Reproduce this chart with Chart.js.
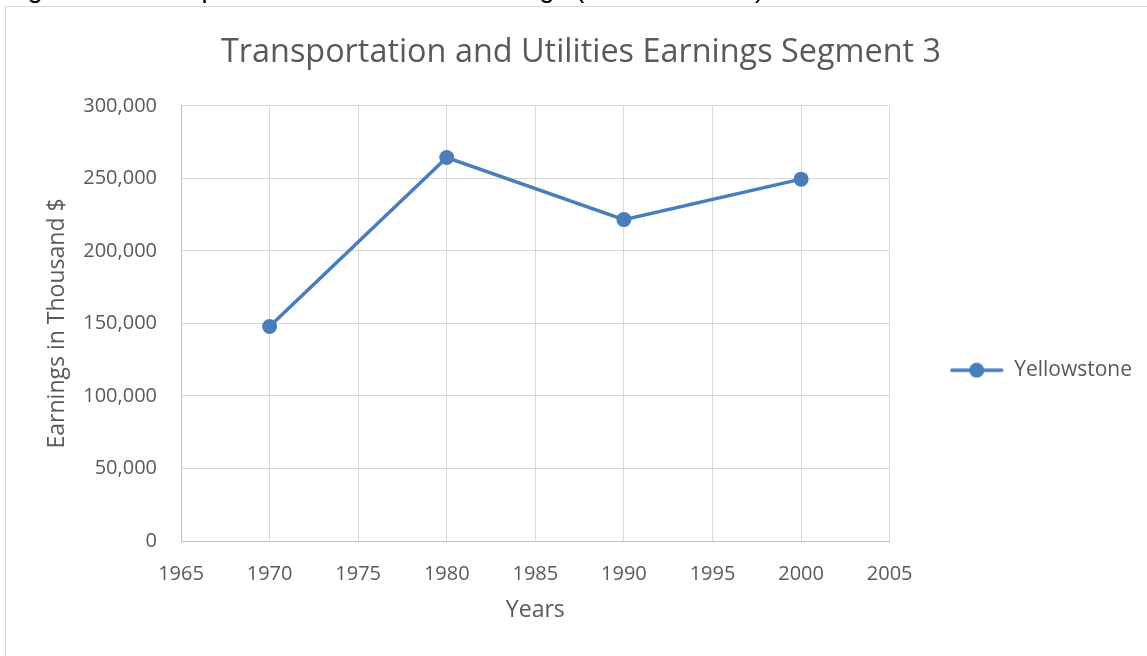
<!DOCTYPE html>
<html>
<head>
<meta charset="utf-8">
<script src="https://cdn.jsdelivr.net/npm/chart.js@4"></script>
<style>
  html, body { margin: 0; padding: 0; background: #fff; overflow: hidden; }
  #page { position: relative; width: 1147px; height: 656px; }
  #caption {
    position: absolute; left: 5px; top: -27px; margin: 0; line-height: 31px;
    font-family: "Liberation Sans", sans-serif; font-size: 27px; color: #000; white-space: nowrap;
  }
  #frame {
    position: absolute; left: 5px; top: 6px; width: 1150px; height: 700px;
    border: 1px solid #d9d9d9; box-sizing: border-box;
  }
  #wrap { position: absolute; left: 0; top: 0; width: 1147px; height: 656px; }
</style>
</head>
<body>
<div id="page">
  <p id="caption">Figure 10: Transportation and Utilities Earnings (in Thousand $)</p>
  <div id="frame"></div>
  <div id="wrap"><canvas id="earningsChart"></canvas></div>
</div>
<script>
const years = [1970, 1980, 1990, 2000];
const yellowstone = [147900, 264400, 221600, 249500];
const xTicks = [1965, 1970, 1975, 1980, 1985, 1990, 1995, 2000, 2005];
const yTicks = [0, 50000, 100000, 150000, 200000, 250000, 300000];

const LINE_BLUE = "#4a7ebb";
const TEXT_GREY = "#595959";
const GRID_GREY = "#d9d9d9";
const FONT = "'Open Sans', sans-serif";

// legend marker: short line with a dot in the middle
function legendMarker() {
  const c = document.createElement("canvas");
  c.width = 54;
  c.height = 16;
  const ctx = c.getContext("2d");
  ctx.strokeStyle = LINE_BLUE;
  ctx.lineWidth = 3.5;
  ctx.lineCap = "round";
  ctx.beginPath();
  ctx.moveTo(2, 8);
  ctx.lineTo(52, 8);
  ctx.stroke();
  ctx.fillStyle = LINE_BLUE;
  ctx.beginPath();
  ctx.arc(27, 8, 7.5, 0, Math.PI * 2);
  ctx.fill();
  return c;
}

function init() {
  const marker = legendMarker();
  new Chart(document.getElementById("earningsChart"), {
    type: "line",
    data: {
      datasets: [{
        label: "Yellowstone",
        data: years.map((y, i) => ({ x: y, y: yellowstone[i] })),
        borderColor: LINE_BLUE,
        backgroundColor: LINE_BLUE,
        borderWidth: 3.5,
        pointRadius: 7.5,
        pointHoverRadius: 7.5,
        pointBorderWidth: 0,
        tension: 0,
        fill: false
      }]
    },
    options: {
      responsive: true,
      maintainAspectRatio: false,
      animation: false,
      layout: { padding: { left: 20, right: 5, top: 0, bottom: 32 } },
      plugins: {
        title: {
          display: true,
          text: "Transportation and Utilities Earnings Segment 3",
          color: TEXT_GREY,
          font: { family: FONT, size: 32.4, weight: "normal" },
          padding: { top: 33, bottom: 34 }
        },
        legend: {
          position: "right",
          title: { display: true, text: "", font: { size: 12 }, padding: { top: 0, bottom: 102 } },
          labels: {
            color: TEXT_GREY,
            font: { family: FONT, size: 21 },
            usePointStyle: true,
            pointStyle: marker,
            pointStyleWidth: 54,
            padding: 60,
            generateLabels: chart => chart.data.datasets.map((ds, i) => ({
              text: ds.label,
              fontColor: TEXT_GREY,
              pointStyle: marker,
              datasetIndex: i,
              lineWidth: 0,
              strokeStyle: "transparent",
              fillStyle: "transparent"
            }))
          }
        },
        tooltip: { enabled: false }
      },
      scales: {
        x: {
          type: "linear",
          min: xTicks[0],
          max: xTicks[xTicks.length - 1],
          afterBuildTicks: axis => { axis.ticks = xTicks.map(v => ({ value: v })); },
          afterFit: axis => { axis.height = 83; },
          ticks: {
            color: TEXT_GREY,
            font: { family: FONT, size: 20 },
            padding: 21,
            callback: v => String(v)
          },
          grid: { color: GRID_GREY, lineWidth: 1, drawTicks: false },
          border: { color: "#bfbfbf", width: 1 },
          title: {
            display: true,
            text: "Years",
            color: TEXT_GREY,
            font: { family: FONT, size: 23 },
            padding: { top: 0, bottom: 0 }
          }
        },
        y: {
          min: yTicks[0],
          max: yTicks[yTicks.length - 1],
          afterBuildTicks: axis => { axis.ticks = yTicks.map(v => ({ value: v })); },
          afterFit: axis => { axis.width = 161; },
          ticks: {
            color: TEXT_GREY,
            font: { family: FONT, size: 20 },
            padding: 24,
            callback: v => v.toLocaleString("en-US")
          },
          grid: { color: GRID_GREY, lineWidth: 1, drawTicks: false },
          border: { color: "#bfbfbf", width: 1 },
          title: {
            display: true,
            text: "Earnings in Thousand $",
            color: TEXT_GREY,
            font: { family: FONT, size: 23 },
            padding: { top: 24, bottom: 0 }
          }
        }
      }
    }
  });
}

document.addEventListener("DOMContentLoaded", init);
</script>
</body>
</html>
